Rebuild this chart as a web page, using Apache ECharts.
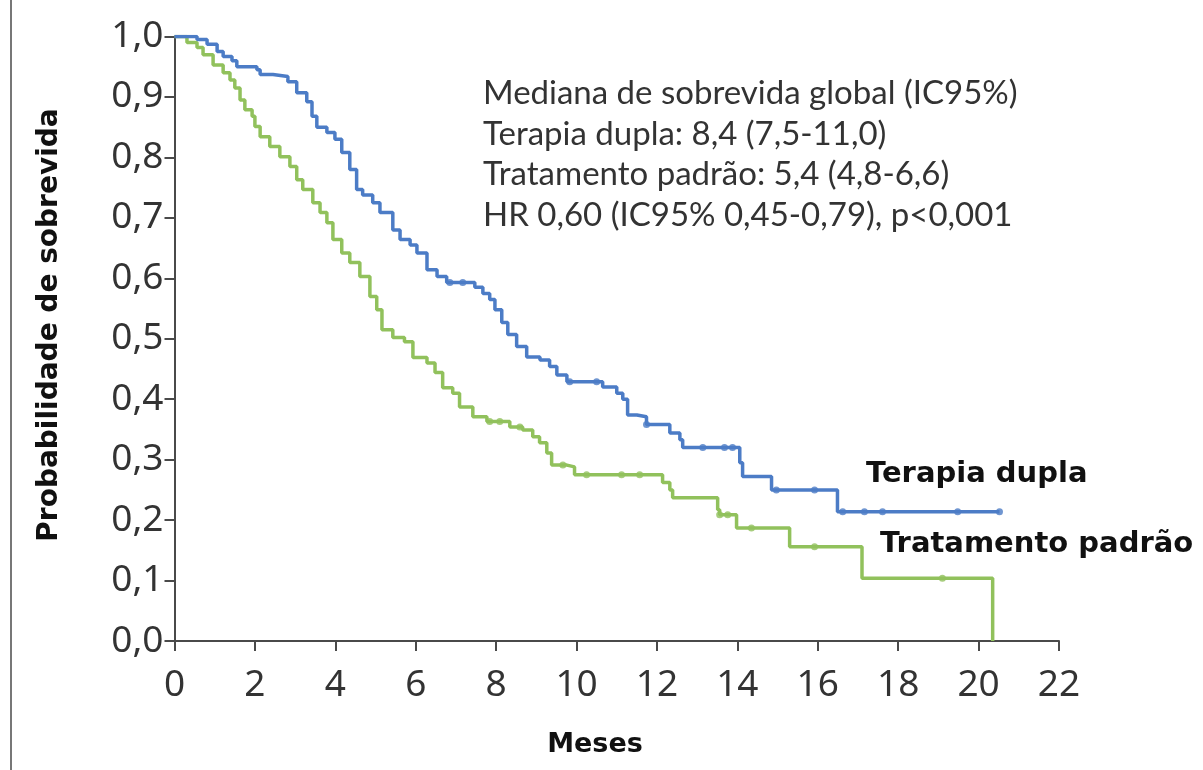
<!DOCTYPE html>
<html>
<head>
<meta charset="utf-8">
<script src="https://cdn.jsdelivr.net/npm/echarts@6/dist/echarts.min.js"></script>
<style>html,body{margin:0;padding:0;background:#fff;}#c{width:1203px;height:770px;}</style>
</head>
<body>
<div id="c"></div>
<script>
// Terapia dupla (blue) — times (months) where survival drops, and the new survival value
const duplaTimes = [0, 0.56, 0.81, 1.06, 1.21, 1.43, 1.55, 2.05, 2.13, 2.45, 2.82, 3.04, 3.29, 3.42, 3.54, 3.79, 3.99, 4.16, 4.36, 4.53, 4.68, 4.93, 5.11, 5.43, 5.61, 5.86, 6.03, 6.28, 6.53, 6.77, 7.47, 7.67, 7.84, 7.97, 8.14, 8.29, 8.51, 8.76, 9.09, 9.33, 9.51, 9.76, 10.65, 11.0, 11.15, 11.27, 11.5, 11.74, 12.32, 12.57, 12.64, 14.06, 14.13, 14.85, 16.49, 20.52];
const duplaSurv  = [1.0, 0.995, 0.987, 0.975, 0.967, 0.96, 0.95, 0.945, 0.937, 0.934, 0.925, 0.907, 0.892, 0.868, 0.85, 0.841, 0.83, 0.808, 0.78, 0.747, 0.738, 0.725, 0.709, 0.68, 0.664, 0.655, 0.642, 0.614, 0.603, 0.593, 0.585, 0.575, 0.565, 0.548, 0.527, 0.507, 0.487, 0.47, 0.465, 0.454, 0.44, 0.429, 0.42, 0.41, 0.40, 0.374, 0.371, 0.358, 0.344, 0.333, 0.32, 0.295, 0.272, 0.25, 0.214, 0.214];
const duplaCensor = [6.85, 7.17, 9.83, 10.5, 11.74, 13.14, 13.68, 13.88, 14.97, 15.92, 16.62, 17.16, 17.61, 19.48, 20.52];

// Tratamento padrão (green)
const padraoTimes = [0, 0.31, 0.56, 0.71, 0.96, 1.21, 1.38, 1.5, 1.63, 1.75, 1.93, 2.0, 2.13, 2.37, 2.62, 2.87, 3.04, 3.19, 3.44, 3.62, 3.79, 3.94, 4.16, 4.36, 4.61, 4.86, 5.03, 5.16, 5.43, 5.72, 5.93, 6.28, 6.48, 6.67, 6.92, 7.09, 7.42, 7.77, 8.34, 8.66, 8.91, 9.08, 9.26, 9.38, 9.76, 9.95, 12.14, 12.32, 12.39, 13.51, 13.56, 13.98, 15.3, 17.1, 20.35];
const padraoSurv  = [1.0, 0.99, 0.982, 0.97, 0.953, 0.94, 0.928, 0.915, 0.895, 0.879, 0.868, 0.851, 0.834, 0.818, 0.801, 0.785, 0.763, 0.747, 0.725, 0.709, 0.692, 0.664, 0.642, 0.626, 0.603, 0.57, 0.548, 0.515, 0.502, 0.495, 0.469, 0.46, 0.444, 0.419, 0.41, 0.387, 0.371, 0.363, 0.354, 0.349, 0.338, 0.328, 0.311, 0.291, 0.288, 0.275, 0.262, 0.25, 0.237, 0.217, 0.209, 0.187, 0.156, 0.104, 0.0];
const padraoCensor = [7.84, 8.09, 8.59, 9.66, 10.25, 11.12, 11.57, 13.56, 13.76, 14.35, 15.92, 19.1];

const xTicks = [0, 2, 4, 6, 8, 10, 12, 14, 16, 18, 20, 22];
const yTicks = [0, 0.1, 0.2, 0.3, 0.4, 0.5, 0.6, 0.7, 0.8, 0.9, 1.0];

const annotationLines = [
  'Mediana de sobrevida global (IC95%)',
  'Terapia dupla: 8,4 (7,5-11,0)',
  'Tratamento padrão: 5,4 (4,8-6,6)',
  'HR 0,60 (IC95% 0,45-0,79), p<0,001'
];
const seriesNames = ['Terapia dupla', 'Tratamento padrão'];

function pairs(t, s) { return t.map((v, i) => [v, s[i]]); }
function survAt(t, s, x) {
  let v = s[0];
  for (let i = 0; i < t.length; i++) { if (t[i] <= x) v = s[i]; }
  return v;
}

const BLUE = '#4c7cc6', GREEN = '#91c15c', AX = '#4a4a4a', TXT = '#333333';
const chart = echarts.init(document.getElementById('c'));

const axisCommon = {
  axisLine: { show: true, lineStyle: { color: AX, width: 2 } },
  axisTick: { show: true, inside: false, length: 10, lineStyle: { color: AX, width: 2 } },
  splitLine: { show: false },
  axisLabel: { color: TXT, fontFamily: 'Noto Sans', fontSize: 37 }
};

chart.setOption({
  animation: false,
  backgroundColor: '#fff',
  grid: { left: 174.5, right: 144, top: 36.5, bottom: 129, containLabel: false },
  xAxis: Object.assign({}, axisCommon, {
    type: 'value', min: xTicks[0], max: xTicks[xTicks.length - 1], interval: 2,
    axisLabel: Object.assign({}, axisCommon.axisLabel, { margin: 26 })
  }),
  yAxis: Object.assign({}, axisCommon, {
    type: 'value', min: yTicks[0], max: yTicks[yTicks.length - 1], interval: 0.1,
    axisLabel: Object.assign({}, axisCommon.axisLabel, {
      margin: 11,
      formatter: v => v.toFixed(1).replace('.', ',')
    })
  }),
  series: [
    { name: seriesNames[0], type: 'line', step: 'end', showSymbol: false, data: pairs(duplaTimes, duplaSurv),
      lineStyle: { color: BLUE, width: 3.5 }, z: 3 },
    { name: seriesNames[1], type: 'line', step: 'end', showSymbol: false, data: pairs(padraoTimes, padraoSurv),
      lineStyle: { color: GREEN, width: 3.5 }, z: 2 },
    { type: 'scatter', data: duplaCensor.map(x => [x, survAt(duplaTimes, duplaSurv, x)]),
      symbol: 'circle', symbolSize: 7, itemStyle: { color: BLUE }, z: 4 },
    { type: 'scatter', data: padraoCensor.map(x => [x, survAt(padraoTimes, padraoSurv, x)]),
      symbol: 'circle', symbolSize: 7, itemStyle: { color: GREEN }, z: 4 }
  ],
  graphic: [
    { type: 'line', shape: { x1: 11, y1: 0, x2: 11, y2: 770 }, style: { stroke: '#777', lineWidth: 2 } },
    ...annotationLines.map((t, i) => ({
      type: 'text', left: 483, top: 77 + i * 40.5,
      style: { text: t, fill: TXT, font: '33px Lato' }
    })),
    { type: 'text', left: 866, top: 460, style: { text: seriesNames[0], fill: '#111', font: 'bold 29px "DejaVu Sans"' } },
    { type: 'text', left: 880, top: 530, style: { text: seriesNames[1], fill: '#111', font: 'bold 29px "DejaVu Sans"' } },
    { type: 'text', x: 50, y: 325, rotation: Math.PI / 2,
      style: { text: 'Probabilidade de sobrevida', fill: '#111', font: 'bold 28px "DejaVu Sans"', align: 'center', verticalAlign: 'middle' } },
    { type: 'text', x: 595, y: 745,
      style: { text: 'Meses', fill: '#111', font: 'bold 27px "DejaVu Sans"', align: 'center', verticalAlign: 'middle' } }
  ]
});
</script>
</body>
</html>
